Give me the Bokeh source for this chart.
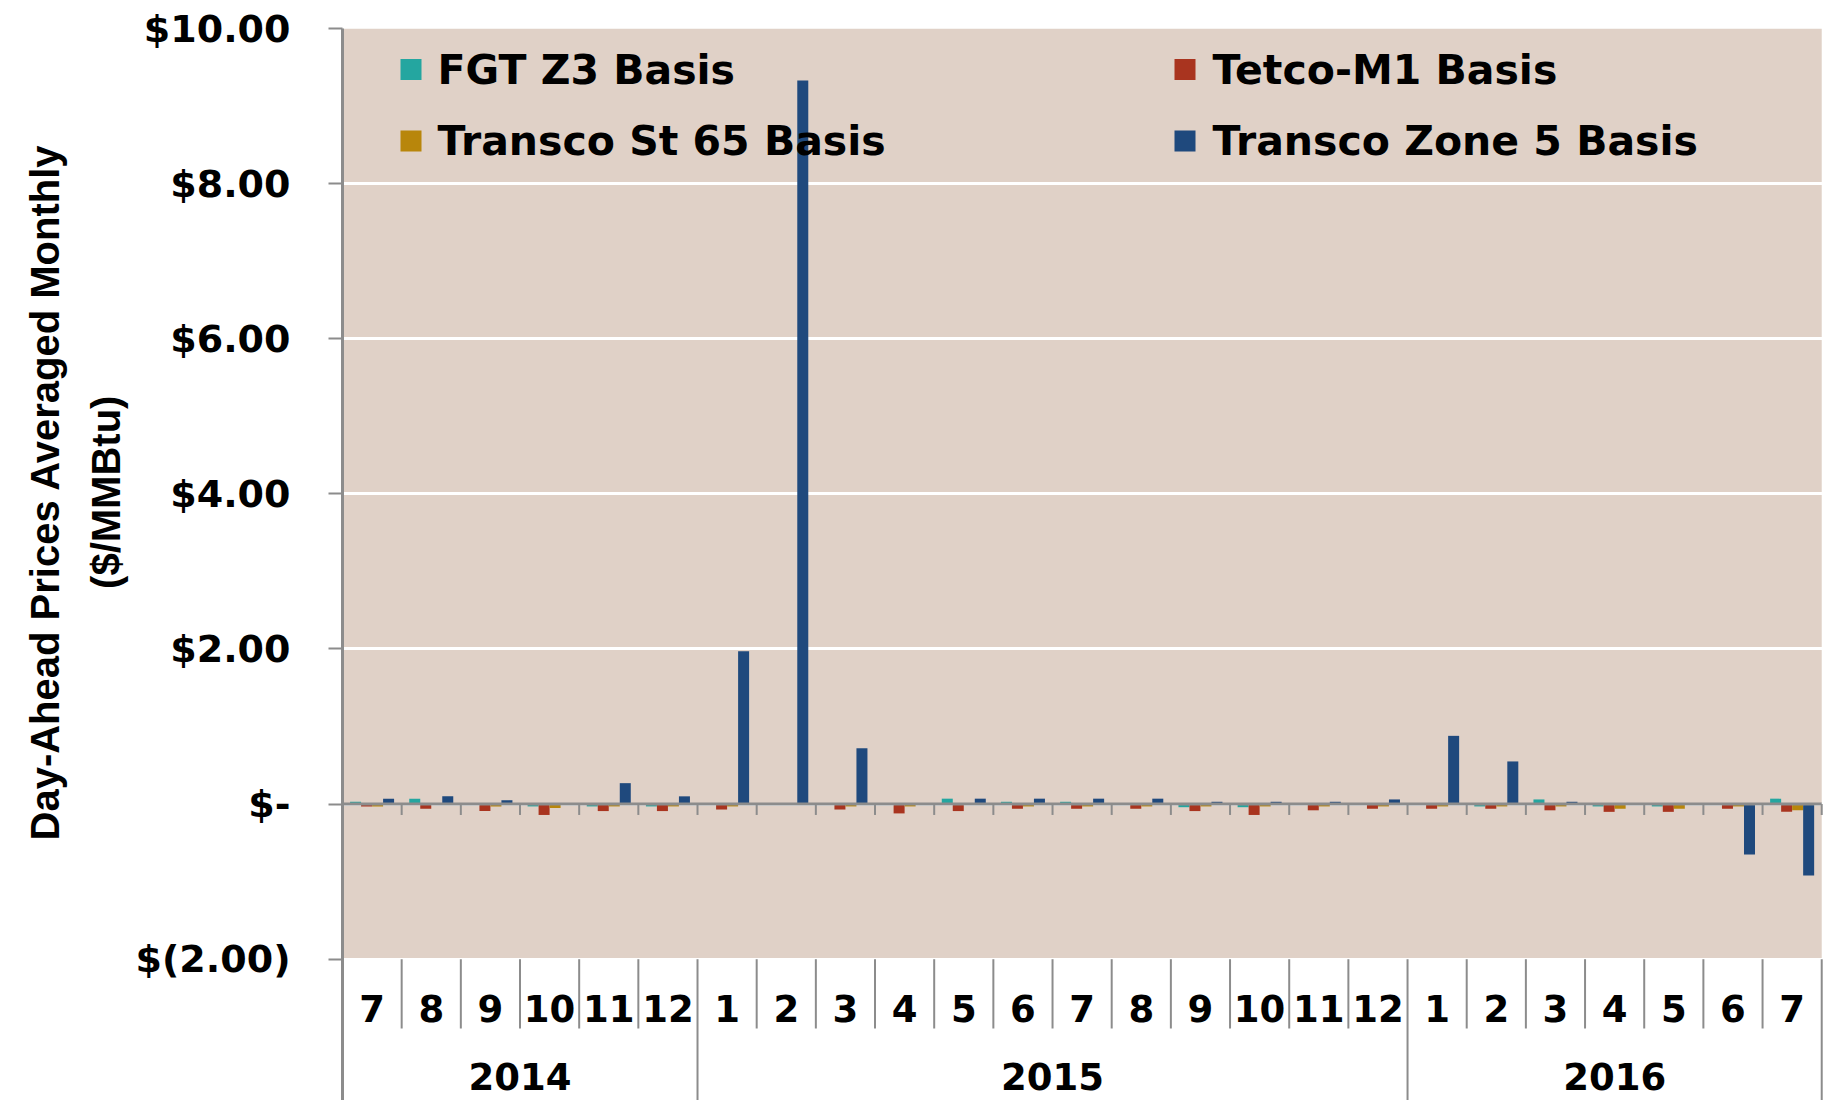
from bokeh.plotting import figure
from bokeh.models import Range1d, FixedTicker, ColumnDataSource
from bokeh.embed import file_html
from bokeh.resources import INLINE
from bokeh.core.properties import value
from bokeh.transform import dodge

# ---------------- data ----------------
years = ["2014", "2015", "2016"]
months_per_year = [6, 12, 7]
months = ["7", "8", "9", "10", "11", "12",
          "1", "2", "3", "4", "5", "6", "7", "8", "9", "10", "11", "12",
          "1", "2", "3", "4", "5", "6", "7"]
series_names = ["FGT Z3 Basis", "Tetco-M1 Basis", "Transco St 65 Basis", "Transco Zone 5 Basis"]
fgt_z3 = [0.03, 0.07, 0.00, -0.03, -0.03, -0.03,
          0.00, 0.00, 0.00, 0.00, 0.07, 0.03, 0.03, 0.00, -0.04, -0.04, 0.00, 0.00,
          0.00, -0.03, 0.06, -0.03, -0.03, 0.00, 0.07]
tetco_m1 = [-0.03, -0.06, -0.09, -0.14, -0.09, -0.09,
            -0.07, 0.00, -0.07, -0.12, -0.09, -0.06, -0.06, -0.06, -0.09, -0.14, -0.08, -0.06,
            -0.06, -0.06, -0.08, -0.10, -0.10, -0.06, -0.10]
transco_st65 = [-0.03, 0.00, -0.03, -0.05, -0.03, -0.03,
                -0.03, 0.00, -0.03, -0.03, 0.00, -0.03, -0.03, -0.03, -0.03, -0.03, -0.03, -0.03,
                -0.03, -0.03, -0.03, -0.06, -0.06, -0.03, -0.08]
transco_z5 = [0.07, 0.10, 0.05, 0.00, 0.27, 0.10,
              1.97, 9.33, 0.72, 0.00, 0.07, 0.07, 0.07, 0.07, 0.03, 0.03, 0.03, 0.06,
              0.88, 0.55, 0.03, 0.00, 0.00, -0.65, -0.92]
y_ticks = [-2, 0, 2, 4, 6, 8, 10]
y_tick_labels = ["$(2.00)", "$-", "$2.00", "$4.00", "$6.00", "$8.00", "$10.00"]
y_title_lines = ["Day-Ahead Prices Averaged Monthly", "($/MMBtu)"]

# ---------------- style ----------------
colors = ["#24A6A0", "#A9341F", "#B8860B", "#1F497D"]
bg_color = "#E0D1C7"
axis_gray = "#8C8C8C"
W, H = 1835, 1100
TOP, BOTTOM, LEFT, RIGHT = 28, 0, 342, 12
PX_PER_UNIT = 77.56
ZERO_PX = TOP + y_ticks[-1] * PX_PER_UNIT
y_min = y_ticks[-1] - (H - TOP - BOTTOM) / PX_PER_UNIT
n = len(months)
X_END = n + 0.03
PX_PER_X = (W - LEFT - RIGHT) / X_END
# the axis title is centred on the whole frame; lift it to the centre of the value area
TITLE_LIFT = "\u00A0" * 13


def px_to_y(ypx):
    # vertical page pixel -> data y
    return (ZERO_PX - ypx) / PX_PER_UNIT


def px_to_x(xpx):
    return (xpx - LEFT) / PX_PER_X


p = figure(width=W, height=H, output_backend="svg", toolbar_location=None,
           x_range=Range1d(0, X_END), y_range=Range1d(y_min, y_ticks[-1]),
           x_axis_location=None,
           min_border_left=LEFT, min_border_right=RIGHT,
           min_border_top=TOP, min_border_bottom=BOTTOM)
p.outline_line_color = None
p.background_fill_color = "white"
p.border_fill_color = "white"

# plot-area background
p.quad(left=[0], right=[n], bottom=[y_ticks[0]], top=[y_ticks[-1]],
       fill_color=bg_color, line_color=None, level="image")

# grid
p.ygrid.ticker = FixedTicker(ticks=y_ticks)
p.ygrid.grid_line_color = "white"
p.ygrid.grid_line_width = 3
p.xgrid.grid_line_color = None

# y axis
yax = p.yaxis[0]
yax.ticker = FixedTicker(ticks=y_ticks)
yax.major_label_overrides = {t: l for t, l in zip(y_ticks, y_tick_labels)}
yax.major_label_text_font = "DejaVu Sans"
yax.major_label_text_font_style = "bold"
yax.major_label_text_font_size = "38px"
yax.major_label_text_color = "black"
yax.major_label_standoff = 38
yax.major_tick_out = 14
yax.major_tick_in = 0
yax.minor_tick_line_color = None
yax.axis_line_color = axis_gray
yax.axis_line_width = 3
yax.major_tick_line_color = axis_gray
yax.major_tick_line_width = 2
yax.axis_label = "\n".join(TITLE_LIFT + t for t in y_title_lines)
yax.axis_label_text_font = "Liberation Sans"
yax.axis_label_text_font_style = "bold"
yax.axis_label_text_font_size = "40px"
yax.axis_label_text_color = "black"
yax.axis_label_text_line_height = 1.37
yax.axis_label_standoff = 5

# bars
centers = [i + 0.5 for i in range(n)]
src = ColumnDataSource(dict(x=centers, fgt=fgt_z3, tetco=tetco_m1, st65=transco_st65, z5=transco_z5))
cols = ["fgt", "tetco", "st65", "z5"]
bw = 0.186
for j, c in enumerate(cols):
    p.vbar(x=dodge("x", (j - 1.5) * bw), top=c, bottom=0, width=bw, source=src,
           fill_color=colors[j], line_color=None)

# zero line + small ticks
bounds = list(range(n + 1))
p.segment(x0=[0], y0=[0], x1=[n], y1=[0], line_color=axis_gray, line_width=3)
p.segment(x0=bounds[1:], y0=[0] * n, x1=bounds[1:], y1=[-0.14] * n,
          line_color=axis_gray, line_width=2)

# category axis (month / year) separators and labels
year_starts = [0]
for c in months_per_year:
    year_starts.append(year_starts[-1] + c)
month_sep_bottom = px_to_y(1028)
short = [b for b in bounds if b not in year_starts]
p.segment(x0=short, y0=[y_ticks[0]] * len(short), x1=short, y1=[month_sep_bottom] * len(short),
          line_color=axis_gray, line_width=2)
long_ = year_starts[1:]
p.segment(x0=long_, y0=[y_ticks[0]] * len(long_), x1=long_, y1=[y_min] * len(long_),
          line_color=axis_gray, line_width=2)

p.text(x=centers, y=[px_to_y(1008)] * n, text=months,
       text_font=value("DejaVu Sans"), text_font_style="bold", text_font_size="37px",
       text_align="center", text_baseline="middle", text_color="black")
year_centers = [(year_starts[k] + year_starts[k + 1]) / 2 for k in range(len(years))]
p.text(x=year_centers, y=[px_to_y(1076)] * len(years), text=years,
       text_font=value("DejaVu Sans"), text_font_style="bold", text_font_size="37px",
       text_align="center", text_baseline="middle", text_color="black")

# legend (inside plot, 2 x 2)
sq_x = [px_to_x(410.5), px_to_x(1184.5)]
tx_x = [px_to_x(437), px_to_x(1212)]
row_y = [px_to_y(69), px_to_y(140.5)]
lx = [sq_x[j % 2] for j in range(4)]
ltx = [tx_x[j % 2] for j in range(4)]
ly = [row_y[j // 2] for j in range(4)]
p.scatter(x=lx, y=ly, marker="square", size=21, fill_color=colors, line_color=None)
p.text(x=ltx, y=ly, text=series_names,
       text_font=value("DejaVu Sans"), text_font_style="bold", text_font_size="41px",
       text_align="left", text_baseline="middle", text_color="black")

open("out.html", "w").write(file_html(p, INLINE))
